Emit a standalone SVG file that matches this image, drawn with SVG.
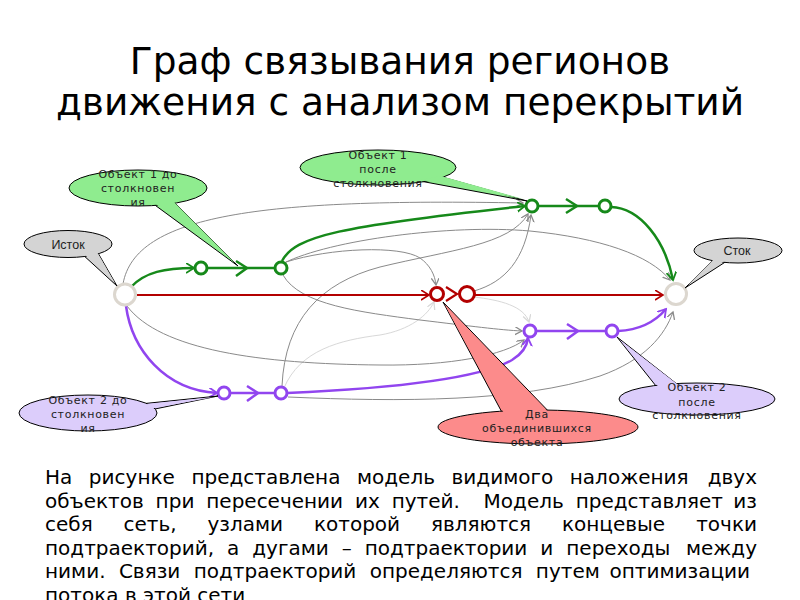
<svg xmlns="http://www.w3.org/2000/svg" width="800" height="600" viewBox="0 0 800 600">
<defs>
<style>
.title{font-family:"DejaVu Sans","Liberation Sans",sans-serif;font-size:37.5px;fill:#000;text-anchor:middle}
.body{font-family:"DejaVu Sans","Liberation Sans",sans-serif;font-size:20px;fill:#000}
.lbl{font-family:"DejaVu Sans","Liberation Sans",sans-serif;font-size:11px;fill:#222;text-anchor:middle;letter-spacing:0.7px}
.lbl2{font-family:"Liberation Sans","DejaVu Sans",sans-serif;font-size:12.5px;fill:#222;text-anchor:middle}
.gray{fill:none;stroke:#8a8a8a;stroke-width:1;marker-end:url(#ag)}
.light{fill:none;stroke:#d8d8d8;stroke-width:1;marker-end:url(#al)}
.gr{fill:none;stroke:#16891a;stroke-width:2.5}
.pu{fill:none;stroke:#9145ef;stroke-width:2.5}
.rd{fill:none;stroke:#b30000;stroke-width:2.2}
.cgr{fill:#fff;stroke:#16891a;stroke-width:3}
.cpu{fill:#fff;stroke:#9145ef;stroke-width:3}
.crd{fill:#fff;stroke:#b30000;stroke-width:3}
.term{fill:#fff;stroke:#dcd7cf;stroke-width:3}
.co{stroke:#000;stroke-width:1}
</style>
<marker id="ag" markerUnits="userSpaceOnUse" markerWidth="10" markerHeight="10" refX="7" refY="4" orient="auto"><path d="M0,0 L7,4 L0,8" fill="none" stroke="#8a8a8a" stroke-width="1.3"/></marker>
<marker id="al" markerUnits="userSpaceOnUse" markerWidth="10" markerHeight="10" refX="7" refY="4" orient="auto"><path d="M0,0 L7,4 L0,8" fill="none" stroke="#d8d8d8" stroke-width="1.3"/></marker>
<marker id="agr" markerUnits="userSpaceOnUse" markerWidth="12" markerHeight="12" refX="8" refY="5" orient="auto"><path d="M0,0 L8,5 L0,10" fill="none" stroke="#16891a" stroke-width="1.8"/></marker>
<marker id="apu" markerUnits="userSpaceOnUse" markerWidth="12" markerHeight="12" refX="8" refY="5" orient="auto"><path d="M0,0 L8,5 L0,10" fill="none" stroke="#9145ef" stroke-width="1.8"/></marker>
<marker id="ard" markerUnits="userSpaceOnUse" markerWidth="12" markerHeight="12" refX="8" refY="5" orient="auto"><path d="M0,0 L8,5 L0,10" fill="none" stroke="#b30000" stroke-width="1.6"/></marker>
</defs>
<rect width="800" height="600" fill="#fff"/>

<g id="title">
<text class="title" x="400" y="74">Граф связывания регионов</text>
<text class="title" x="400" y="115">движения с анализом перекрытий</text>
</g>

<g id="connectors">
<path class="light" d="M284,388 C300,350 340,340 380,335 C410,330 428,315 434,302"/>
<path class="light" d="M474,297 C500,300 524,306 529,322"/>
<path class="gray" d="M123,284 C135,215 260,198 523,203"/>
<path class="gray" d="M284,263 C330,240 450,224 530,231 C600,238 650,255 670,280"/>
<path class="gray" d="M286,262 C330,248 400,245 420,258 C430,265 435,275 436,285"/>
<path class="gray" d="M283,275 C300,305 360,312 420,320 C470,326 500,330 522,331"/>
<path class="gray" d="M282,386 C285,320 320,283 380,267 C450,250 510,245 528,214"/>
<path class="gray" d="M474,291 C505,282 525,260 531,215"/>
<path class="gray" d="M127,306 C160,350 260,364 380,365 C450,366 505,355 524,340"/>
<path class="gray" d="M288,397 C400,402 520,402 600,376 C645,360 665,335 673,312"/>
<path class="gr" d="M131,287 C145,272 165,268 194,268" marker-end="url(#agr)"/>
<path class="gr" d="M207,268 L247,268"/>
<path class="gr" d="M247,268 L275,268" stroke-width="3.5"/>
<path class="gr" d="M236,261 L247,268 L236,276"/>
<path class="gr" d="M282,261 C295,236 340,226 525,206" marker-end="url(#agr)"/>
<path class="gr" d="M538,206 L599,206"/>
<path class="gr" d="M566,199 L577,206 L566,213"/>
<path class="gr" d="M611,207 C640,208 665,240 673,280" marker-end="url(#agr)"/>
<path class="rd" d="M137,295 L429,295" marker-end="url(#ard)"/>
<path class="rd" d="M446,287 L457,294 L446,301" stroke-width="3"/>
<path class="rd" d="M475,295 L663,295" marker-end="url(#ard)"/>
<path class="pu" d="M126,306 C132,350 165,390 217,393" marker-end="url(#apu)"/>
<path class="pu" d="M230,393 L258,393"/>
<path class="pu" d="M258,393 L275,393" stroke-width="3.5"/>
<path class="pu" d="M247,386 L258,393 L247,401"/>
<path class="pu" d="M287,393 C400,388 480,378 512,360 C522,354 527,346 528,338" marker-end="url(#apu)"/>
<path class="pu" d="M536,331 L606,331"/>
<path class="pu" d="M567,324 L578,331 L567,339"/>
<path class="pu" d="M618,331 C640,330 655,322 666,309" marker-end="url(#apu)"/>
</g>

<g id="source"><circle class="term" cx="125" cy="294.5" r="10.5"/></g>
<g id="sink"><circle class="term" cx="676" cy="294" r="10.5"/></g>
<g id="obj1-before-start"><circle class="cgr" cx="201" cy="268" r="6"/></g>
<g id="obj1-before-end"><circle class="cgr" cx="281" cy="268" r="6"/></g>
<g id="obj1-after-start"><circle class="cgr" cx="532" cy="206" r="6"/></g>
<g id="obj1-after-end"><circle class="cgr" cx="605" cy="206" r="6"/></g>
<g id="merged-start"><circle class="crd" cx="437" cy="294" r="6.5"/></g>
<g id="merged-end"><circle class="crd" cx="467" cy="294" r="7.5"/></g>
<g id="obj2-before-start"><circle class="cpu" cx="224" cy="393" r="6"/></g>
<g id="obj2-before-end"><circle class="cpu" cx="281" cy="393" r="6"/></g>
<g id="obj2-after-start"><circle class="cpu" cx="530" cy="331" r="6"/></g>
<g id="obj2-after-end"><circle class="cpu" cx="612" cy="331" r="6"/></g>

<g id="callout-istok">
<polygon class="co" points="82,254 98,253 117,286" fill="#d4d4d4"/>
<ellipse class="co" cx="68" cy="244" rx="44" ry="13.5" fill="#d4d4d4"/>
<polygon points="83,253 97,252 115,283" fill="#d4d4d4"/>
<text class="lbl2" x="68" y="248.5">Исток</text>
</g>
<g id="callout-stok">
<polygon class="co" points="715,258 730,259 685,288" fill="#d4d4d4"/>
<ellipse class="co" cx="738" cy="250.5" rx="44" ry="12.5" fill="#d4d4d4"/>
<polygon points="716,257 729,258 688,285" fill="#d4d4d4"/>
<text class="lbl2" x="737" y="255">Сток</text>
</g>
<g id="callout-obj1-before">
<polygon class="co" points="148,200 170,198 238,266" fill="#8fec8f"/>
<ellipse class="co" cx="138" cy="188" rx="69" ry="18" fill="#8fec8f"/>
<polygon points="149,199 169,197 235,263" fill="#8fec8f"/>
<text class="lbl" x="138" y="177.5">Объект 1 до</text>
<text class="lbl" x="138" y="191.5">столкновен</text>
<text class="lbl" x="138" y="205.5">ия</text>
</g>
<g id="callout-obj1-after">
<polygon class="co" points="420,181 442,177 527,201" fill="#8fec8f"/>
<ellipse class="co" cx="378" cy="167.5" rx="78" ry="17.5" fill="#8fec8f"/>
<polygon points="421,180 441,176 523,199" fill="#8fec8f"/>
<text class="lbl" x="378" y="159">Объект 1</text>
<text class="lbl" x="378" y="173">после</text>
<text class="lbl" x="378" y="187">столкновения</text>
</g>
<g id="callout-obj2-before">
<polygon class="co" points="140,404 150,410 218,396" fill="#dccdfb"/>
<ellipse class="co" cx="88" cy="413" rx="69" ry="18" fill="#dccdfb"/>
<polygon points="139,405 149,409 214,397" fill="#dccdfb"/>
<text class="lbl" x="88" y="404">Объект 2 до</text>
<text class="lbl" x="88" y="418">столкновен</text>
<text class="lbl" x="88" y="432">ия</text>
</g>
<g id="callout-obj2-after">
<polygon class="co" points="660,391 682,388 617,337" fill="#dccdfb"/>
<ellipse class="co" cx="697" cy="399" rx="78" ry="16" fill="#dccdfb"/>
<polygon points="661,390 681,387 620,340" fill="#dccdfb"/>
<text class="lbl" x="697" y="391">Объект 2</text>
<text class="lbl" x="697" y="405.5">после</text>
<text class="lbl" x="697" y="419">столкновения</text>
</g>
<g id="callout-merged">
<polygon class="co" points="505,418 555,418 443,302" fill="#fc8b8b"/>
<ellipse class="co" cx="538" cy="427" rx="100" ry="17" fill="#fc8b8b"/>
<polygon points="506,417 553,417 445,305" fill="#fc8b8b"/>
<text class="lbl" x="537" y="418">Два</text>
<text class="lbl" x="537" y="432">объединившихся</text>
<text class="lbl" x="537" y="446">объекта</text>
</g>

<g id="caption">
<text class="body" y="484" word-spacing="10.2"><tspan x="45">На рисунке представлена модель видимого наложения</tspan> <tspan x="757" text-anchor="end">двух</tspan></text>
<text class="body" y="507.5" word-spacing="5.5"><tspan x="45">объектов при пересечении их путей.&#160; Модель представляет</tspan> <tspan x="757" text-anchor="end">из</tspan></text>
<text class="body" y="531" word-spacing="24.5"><tspan x="45">себя сеть, узлами которой являются концевые</tspan> <tspan x="757" text-anchor="end">точки</tspan></text>
<text class="body" y="554.5" word-spacing="6.6"><tspan x="45">подтраекторий, а дугами – подтраектории и переходы</tspan> <tspan x="757" text-anchor="end">между</tspan></text>
<text class="body" y="578" word-spacing="7"><tspan x="45">ними. Связи подтраекторий определяются путем</tspan> <tspan x="750" text-anchor="end">оптимизации</tspan></text>
<text class="body" x="45" y="601.5">потока в этой сети</text>
</g>
</svg>
